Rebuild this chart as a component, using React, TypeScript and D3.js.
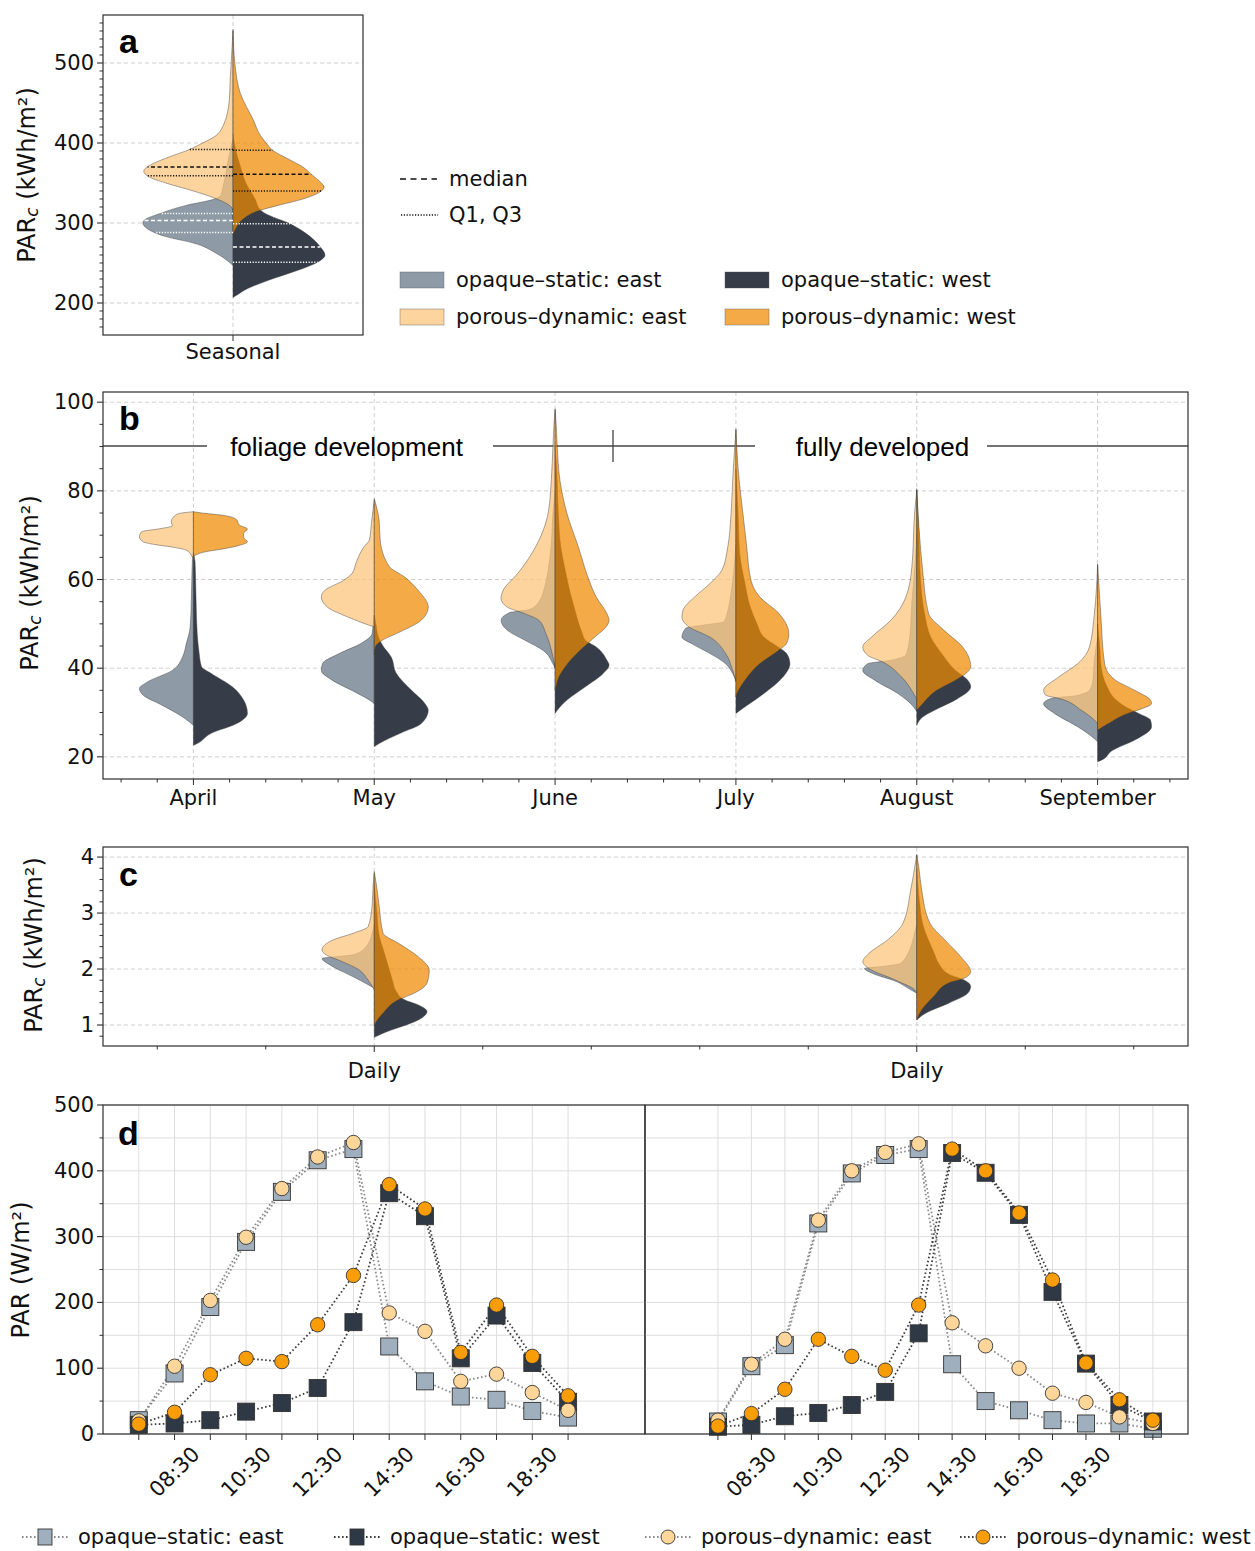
import React from 'react';
import * as d3 from 'd3';

type Pt = [number, number];

// ---------------- DATA ----------------
// violin half-profiles: [value, relative density (0-100)]
// Panel a (seasonal)
const aOpaqueEast: Pt[] = [[247,0],[250,3],[262,18],[275,43],[283,73],[292,92],[300,98],[304,96],[312,79],[322,51],[330,20],[335,13],[345,11],[360,8],[380,5],[400,1],[405,0]];
const aOpaqueWest: Pt[] = [[207,0],[209,3],[217,14],[229,40],[242,73],[251,92],[260,100],[270,95],[288,78],[299,62],[312,35],[316,30],[330,24],[350,14],[371,8],[391,3],[412,0]];
const aPorousEast: Pt[] = [[317,0],[323,5],[332,22],[340,43],[350,73],[358,92],[365,97],[371,92],[381,73],[392,47],[400,33],[408,20],[421,11],[454,4],[480,3],[500,2],[520,1],[540,0]];
const aPorousWest: Pt[] = [[285,0],[295,4],[305,11],[315,27],[322,49],[330,76],[340,96],[345,99],[350,96],[361,85],[370,76],[380,60],[391,43],[400,36],[409,30],[429,22],[462,8],[500,2],[542,0]];
// quartiles [Q1, median, Q3]
const aQuartOpaqueEast = [288, 303, 312];
const aQuartOpaqueWest = [251, 270, 299];
const aQuartPorousEast = [359, 370, 392];
const aQuartPorousWest = [340, 361, 391];

// Panel b (monthly)
const months = ['April', 'May', 'June', 'July', 'August', 'September'];
const aprOpaqueEast: Pt[] = [[27.1,0],[29,20],[31.7,59],[33.9,93],[35.4,100],[36.9,85],[39.5,39],[42.6,20],[45.6,13],[49.3,6],[55,4],[60,3],[64,2],[66,0]];
const aprOpaqueWest: Pt[] = [[22.6,0],[23,7],[25.3,33],[27.5,80],[29.8,100],[32.8,93],[35.8,72],[38.8,33],[40.3,15],[44,10],[47.8,7],[55,5],[60,4],[64,3],[66,0]];
const aprPorousEast: Pt[] = [[64.7,0],[65.5,4],[66.6,13],[67.2,33],[67.9,72],[68.5,93],[69.6,100],[70.75,96],[71.5,60],[72.1,39],[73.0,41],[74.1,37],[74.9,26],[75.3,0]];
const aprPorousWest: Pt[] = [[65.1,0],[66.2,20],[67.0,59],[67.7,85],[68.5,100],[69.5,93],[70.4,93],[71.4,100],[72.3,85],[73.5,80],[74.4,59],[75.1,10],[75.3,0]];
const mayOpaqueEast: Pt[] = [[32,0],[32.4,4],[34.7,37],[37.3,78],[39.5,98],[41,96],[43.3,65],[45.6,24],[47.8,4],[50,2],[52,0]];
const mayOpaqueWest: Pt[] = [[22.3,0],[23,9],[25.3,48],[27.5,87],[30.5,100],[32,94],[35,69],[38.8,41],[42.6,31],[45.2,15],[47,8],[50,3],[52,0]];
const mayPorousEast: Pt[] = [[49.3,0],[50.1,19],[51.6,50],[53.8,87],[56.1,98],[57.6,91],[59.8,57],[61.4,41],[64,33],[67.4,19],[68.9,9],[73,5],[77.9,0]];
const mayPorousWest: Pt[] = [[43,0],[44.8,2],[46.3,15],[48.2,48],[50.8,87],[53.8,100],[57.6,81],[60.6,56],[62.9,28],[68.9,11],[73.4,9],[76.5,4],[78.2,0]];
const junOpaqueEast: Pt[] = [[40,0],[41,4],[44,22],[46.3,56],[48.6,89],[50.8,100],[52.5,85],[53.3,46],[55,30],[58,20],[62,13],[68,7],[75,4],[80,0]];
const junOpaqueWest: Pt[] = [[29.8,0],[30.5,4],[32.8,22],[35.8,56],[38.8,89],[40.7,100],[41.8,96],[44.8,76],[46.3,56],[48,50],[50,44],[53,37],[57,28],[62,19],[67,11],[75,6],[85,3],[90,0]];
const junPorousEast: Pt[] = [[40.3,0],[42.6,4],[47.8,17],[50.8,30],[52.3,56],[53.8,89],[55.7,100],[57.6,96],[61.4,69],[65.9,43],[71.1,22],[74.9,13],[82.4,7],[89.9,4],[95,2],[98.2,0]];
const junPorousWest: Pt[] = [[35,0],[36,2],[38,7],[40,17],[42,30],[44,46],[45.6,61],[47.1,74],[48.6,89],[50.8,100],[52.3,96],[56.1,76],[59.8,63],[67.4,43],[74.9,22],[82.4,9],[89.9,4],[95,2],[98.5,0]];
const julOpaqueEast: Pt[] = [[37,0],[38.8,6],[41,19],[43.3,48],[45.6,83],[47,100],[49,93],[49.8,56],[50.5,22],[53,15],[57,9],[62,4],[68,0]];
const julOpaqueWest: Pt[] = [[29.8,0],[31.3,17],[34.3,52],[38,87],[41,100],[43.3,94],[44.8,78],[47,52],[50,39],[54,26],[59,17],[66,7],[75,4],[85,0]];
const julPorousEast: Pt[] = [[37.3,0],[39.5,6],[43.3,19],[47,48],[49.3,87],[51.6,100],[53.1,98],[56.1,76],[59.1,48],[62.1,26],[67.4,15],[74.9,9],[82.4,6],[93.7,0]];
const julPorousWest: Pt[] = [[33.5,0],[34.3,2],[37.3,17],[41,44],[44.1,80],[45.6,94],[47.8,98],[52.3,80],[56.1,44],[59.8,28],[67.4,20],[74.9,13],[82.4,6],[94,0]];
const augOpaqueEast: Pt[] = [[30.2,0],[31.3,6],[34.3,35],[37.3,78],[39.5,100],[41,91],[41.8,48],[43,20],[47,13],[55,9],[62,4],[70,0]];
const augOpaqueWest: Pt[] = [[27.1,0],[29,11],[31,41],[33,74],[35.8,100],[37.5,93],[39.5,72],[43,48],[47,26],[52,15],[60,7],[70,4],[80,0]];
const augPorousEast: Pt[] = [[33,0],[34.3,6],[38,28],[41.4,63],[42.9,91],[44.8,100],[47.1,83],[50.8,48],[56.1,20],[62.9,9],[74.9,4],[80.2,0]];
const augPorousWest: Pt[] = [[30.5,0],[32,11],[35,37],[37.3,72],[39,93],[40.3,100],[44.8,85],[48.6,50],[52.3,22],[62,11],[72,4],[80.5,0]];
const sepOpaqueEast: Pt[] = [[23.4,0],[24.1,6],[26.8,37],[29.8,80],[32,100],[33.2,85],[33.8,40],[35,15],[37,9],[42,6],[47,0]];
const sepOpaqueWest: Pt[] = [[18.9,0],[19.2,6],[21.5,28],[23.8,69],[26.8,100],[28.3,98],[29.8,76],[31,56],[33,33],[36,17],[40,7],[45,4],[50,0]];
const sepPorousEast: Pt[] = [[27.5,0],[28.3,6],[30.5,30],[33.2,72],[33.9,96],[35,100],[38,72],[41,37],[44.8,15],[52.3,6],[63.2,0]];
const sepPorousWest: Pt[] = [[26,0],[27.5,20],[29.8,56],[30.9,83],[32,100],[32.8,98],[35,69],[37.3,33],[41,13],[52,6],[63.5,0]];

// Panel c (daily)
const dailyLabels = ['Daily', 'Daily'];
const d1OpaqueEast: Pt[] = [[1.66,0],[1.72,11],[1.86,38],[2.07,80],[2.19,95],[2.22,70],[2.26,36],[2.4,15],[2.6,5],[2.8,0]];
const d1OpaqueWest: Pt[] = [[0.78,0],[0.85,15],[0.91,31],[1.0,58],[1.09,80],[1.24,96],[1.35,82],[1.45,55],[1.6,40],[1.8,33],[2.0,27],[2.3,18],[2.6,9],[3.0,5],[3.5,0]];
const d1PorousEast: Pt[] = [[1.63,0],[1.8,11],[2.0,30],[2.14,60],[2.25,87],[2.34,95],[2.52,75],[2.64,38],[2.76,11],[3.12,4],[3.5,2],[3.71,0]];
const d1PorousWest: Pt[] = [[0.98,0],[1.03,2],[1.21,16],[1.45,44],[1.57,73],[1.75,96],[1.98,100],[2.22,80],[2.46,44],[2.64,16],[3.12,9],[3.5,4],[3.74,0]];
const d2OpaqueEast: Pt[] = [[1.57,0],[1.63,11],[1.78,38],[1.92,80],[2.01,95],[2.05,60],[2.1,30],[2.3,15],[2.6,5],[2.8,0]];
const d2OpaqueWest: Pt[] = [[1.09,0],[1.21,16],[1.39,58],[1.57,93],[1.69,98],[1.81,85],[1.9,60],[2.1,40],[2.3,31],[2.5,22],[2.8,11],[3.2,5],[3.8,0]];
const d2PorousEast: Pt[] = [[1.57,0],[1.63,4],[1.8,38],[2.01,87],[2.13,98],[2.28,87],[2.52,53],[2.82,25],[3.41,11],[3.8,4],[4.04,0]];
const d2PorousWest: Pt[] = [[1.09,0],[1.27,9],[1.51,31],[1.75,58],[1.83,85],[1.95,98],[2.22,80],[2.52,51],[2.82,24],[3.41,9],[3.8,4],[4.04,0]];

// Panel d (diurnal PAR, W/m²)
const timesLeft = ['07:30','08:30','09:30','10:30','11:30','12:30','13:30','14:30','15:30','16:30','17:30','18:30','19:30'];
const timesRight = ['07:30','08:30','09:30','10:30','11:30','12:30','13:30','14:30','15:30','16:30','17:30','18:30','19:30','20:30'];
const labelledTimes = ['08:30','10:30','12:30','14:30','16:30','18:30'];
const leftOpaqueEast = [21,92,193,292,368,416,433,133,80,57,52,35,25];
const leftOpaqueWest = [14,16,21,34,47,70,170,366,331,115,180,108,49];
const leftPorousEast = [20,103,203,299,373,421,443,184,156,80,91,63,36];
const leftPorousWest = [15,33,90,115,110,166,241,379,342,124,196,118,58];
const rightOpaqueEast = [19,103,135,320,396,424,433,106,50,36,21,16,16,8];
const rightOpaqueWest = [11,14,27,32,44,64,153,427,397,333,216,107,44,19];
const rightPorousEast = [21,106,144,325,400,428,441,169,134,100,62,48,26,16];
const rightPorousWest = [12,31,68,144,118,97,196,433,400,336,234,108,52,21];

const seriesLabels = ['opaque–static: east', 'opaque–static: west', 'porous–dynamic: east', 'porous–dynamic: west'];
const aTicks = [200, 300, 400, 500];
const bTicks = [20, 40, 60, 80, 100];
const cTicks = [1, 2, 3, 4];
const dTicks = [0, 100, 200, 300, 400, 500];

// ---------------- STYLE ----------------
const FONT = "'DejaVu Sans', Verdana, sans-serif";
const ARIAL = "'Liberation Sans', Arial, Helvetica, sans-serif";
const VC = { oe: '#8e9ba6', ow: '#363d48', pe: '#fdc479', pw: '#f08a00' };
const PALPHA = 0.72;
const MC = { oe: '#a0afbd', ow: '#2f3845', pe: '#fed699', pw: '#f99d06' };
const AX = '#2e2e2e';

const toHours = (t: string) => { const [h, m] = t.split(':').map(Number); return h + m / 60; };

function widthAt(p: Pt[], v: number): number {
  const s = [...p].sort((a, b) => a[0] - b[0]);
  for (let i = 0; i < s.length - 1; i++) {
    if (v >= s[i][0] && v <= s[i + 1][0]) {
      const t = (v - s[i][0]) / (s[i + 1][0] - s[i][0]);
      return s[i][1] + t * (s[i + 1][1] - s[i][1]);
    }
  }
  return 0;
}

function Half({ data, cx, dir, y, w, fill, alpha }: any) {
  const sorted = [...data].sort((p: Pt, q: Pt) => q[0] - p[0]);
  const area = d3.area<Pt>().curve(d3.curveMonotoneY).y(d => y(d[0])).x0(cx).x1(d => cx + dir * w(d[1]));
  return <path d={area(sorted) || ''} fill={fill} fillOpacity={alpha} stroke="#3a3a3a" strokeOpacity={0.55} strokeWidth={0.8} />;
}

function Violin({ cx, y, w, oe, ow, pe, pw }: any) {
  return (
    <g>
      <Half data={oe} cx={cx} dir={-1} y={y} w={w} fill={VC.oe} alpha={1} />
      <Half data={ow} cx={cx} dir={1} y={y} w={w} fill={VC.ow} alpha={1} />
      <Half data={pe} cx={cx} dir={-1} y={y} w={w} fill={VC.pe} alpha={PALPHA} />
      <Half data={pw} cx={cx} dir={1} y={y} w={w} fill={VC.pw} alpha={PALPHA} />
    </g>
  );
}

function YAxis({ y, x0, ticks, minor, fmt, fs = 21 }: any) {
  return (
    <g>
      {minor.map((v: number, i: number) => <line key={'m' + i} x1={x0} x2={x0 - 3.5} y1={y(v)} y2={y(v)} stroke={AX} strokeWidth={1} />)}
      {ticks.map((v: number) => (
        <g key={v}>
          <line x1={x0} x2={x0 - 6} y1={y(v)} y2={y(v)} stroke={AX} strokeWidth={1.1} />
          <text x={x0 - 9} y={y(v)} textAnchor="end" dominantBaseline="central" fontFamily={FONT} fontSize={fs} fill="#111">{fmt ? fmt(v) : v}</text>
        </g>
      ))}
    </g>
  );
}

function YLabel({ x, y, main, sub, rest }: any) {
  return (
    <text transform={`translate(${x},${y}) rotate(-90)`} textAnchor="middle" dominantBaseline="central" fontFamily={FONT} fontSize={24} fill="#111">
      {main}
      {sub ? <tspan fontSize={17} fontStyle="italic" dy={5}>{sub}</tspan> : null}
      <tspan dy={sub ? -5 : 0}>{rest}</tspan>
    </text>
  );
}

function PanelLabel({ x, y, t }: any) {
  return <text x={x} y={y} fontFamily={ARIAL} fontWeight="bold" fontSize={34} fill="#000">{t}</text>;
}

const dash = '4 3';
const GRID = '#c9c9c9';

export default function App() {
  // ---------- panel a ----------
  const aL = 103, aR = 363, aT = 15, aB = 335;
  const yA = d3.scaleLinear().domain([160, 560]).range([aB, aT]);
  const wA = d3.scaleLinear().domain([0, 100]).range([0, 92]);
  const xA = d3.scaleBand<string>().domain(['Seasonal']).range([aL, aR]);
  const cxA = (xA('Seasonal') as number) + xA.bandwidth() / 2;
  const aMinor = d3.range(170, 560, 10).filter(v => v % 100 !== 0);

  const quartLines = (q: number[], prof: Pt[], dir: number, color: string) =>
    q.map((v, i) => (
      <line key={i} x1={cxA} x2={cxA + dir * wA(widthAt(prof, v))} y1={yA(v)} y2={yA(v)} stroke={color} strokeWidth={1.5}
        strokeDasharray={i === 1 ? '4 2.5' : '1.2 1.6'} />
    ));

  // ---------- panel b ----------
  const bL = 103, bR = 1188, bT = 392, bB = 779;
  const yB = d3.scaleLinear().domain([15, 102.3]).range([bB, bT]);
  const xB = d3.scaleBand<string>().domain(months).range([bL, bR]);
  const bw = xB.bandwidth();
  const cB = (m: string) => (xB(m) as number) + bw / 2;
  const wB = d3.scaleLinear().domain([0, 100]).range([0, 54]);
  const bMinor = d3.range(20, 101, 5).filter(v => v % 20 !== 0);
  const bViolins = [
    [aprOpaqueEast, aprOpaqueWest, aprPorousEast, aprPorousWest],
    [mayOpaqueEast, mayOpaqueWest, mayPorousEast, mayPorousWest],
    [junOpaqueEast, junOpaqueWest, junPorousEast, junPorousWest],
    [julOpaqueEast, julOpaqueWest, julPorousEast, julPorousWest],
    [augOpaqueEast, augOpaqueWest, augPorousEast, augPorousWest],
    [sepOpaqueEast, sepOpaqueWest, sepPorousEast, sepPorousWest],
  ];
  const minorX = (centers: number[], band: number, lo: number, hi: number) => {
    const out: number[] = [];
    centers.forEach(c => [-2, -1, 1, 2].forEach(k => { const v = c + k * band / 5; if (v > lo + 1 && v < hi - 1) out.push(v); }));
    return out;
  };
  const bCenters = months.map(cB);
  const phaseY = 446;

  // ---------- panel c ----------
  const cL = 103, cR = 1188, cT = 847, cBt = 1046;
  const yC = d3.scaleLinear().domain([0.625, 4.18]).range([cBt, cT]);
  const xC = d3.scaleBand<number>().domain([0, 1]).range([cL, cR]);
  const cbw = xC.bandwidth();
  const cCenters = [0, 1].map(i => (xC(i) as number) + cbw / 2);
  const wC = d3.scaleLinear().domain([0, 100]).range([0, 55]);
  const cMinor = d3.range(0.8, 4.01, 0.2).filter(v => Math.abs(v - Math.round(v)) > 0.01);
  const cViolins = [
    [d1OpaqueEast, d1OpaqueWest, d1PorousEast, d1PorousWest],
    [d2OpaqueEast, d2OpaqueWest, d2PorousEast, d2PorousWest],
  ];

  // ---------- panel d ----------
  const dT = 1105, dB = 1434, dL1 = 103, dR1 = 645, dL2 = 645, dR2 = 1188;
  const yD = d3.scaleLinear().domain([0, 500]).range([dB, dT]);
  const xD1 = d3.scaleLinear().domain([6.5, 21.65]).range([dL1, dR1]);
  const xD2 = d3.scaleLinear().domain([5.32, 21.55]).range([dL2, dR2]);
  const dGridY = d3.range(0, 501, 50);

  const sub = (times: string[], xs: any, series: { vals: number[]; kind: string; line: string; sq: boolean }[], key: string, L: number, R: number) => {
    const line = d3.line<number>().x((_, i) => xs(toHours(times[i]))).y(v => yD(v));
    return (
      <g key={key}>
        {dGridY.map(v => <line key={'gy' + v} x1={L} x2={R} y1={yD(v)} y2={yD(v)} stroke="#dedede" strokeWidth={1} />)}
        {times.map(t => <line key={'gx' + t} x1={xs(toHours(t))} x2={xs(toHours(t))} y1={dT} y2={dB} stroke="#dedede" strokeWidth={1} />)}
        {series.map(s => <path key={'l' + s.kind} d={line(s.vals) || ''} fill="none" stroke={s.line} strokeWidth={1.8} strokeDasharray="1.6 2.4" />)}
        {series.map(s => (
          <g key={'m' + s.kind}>
            {s.vals.map((v, i) => s.sq
              ? <rect key={i} x={xs(toHours(times[i])) - 8.5} y={yD(v) - 8.5} width={17} height={17} fill={(MC as any)[s.kind]} stroke="#333" strokeWidth={0.9} />
              : <circle key={i} cx={xs(toHours(times[i]))} cy={yD(v)} r={7.2} fill={(MC as any)[s.kind]} stroke="#333" strokeWidth={0.9} />)}
          </g>
        ))}
        <rect x={L} y={dT} width={R - L} height={dB - dT} fill="none" stroke={AX} strokeWidth={1.2} />
        {times.map(t => <line key={'t' + t} x1={xs(toHours(t))} x2={xs(toHours(t))} y1={dB} y2={dB + 6} stroke={AX} strokeWidth={1} />)}
        {times.filter(t => labelledTimes.includes(t)).map(t => (
          <text key={'tl' + t} transform={`translate(${xs(toHours(t))},${dB + 38}) rotate(-45)`} textAnchor="middle" dominantBaseline="central" fontFamily={FONT} fontSize={21} fill="#111">{t}</text>
        ))}
      </g>
    );
  };

  const legendX = [22, 334, 645, 960];
  const legendKinds = ['oe', 'ow', 'pe', 'pw'];
  const lineCol: any = { oe: '#8a8a8a', ow: '#3c3c3c', pe: '#8a8a8a', pw: '#3c3c3c' };

  return (
    <svg width={1255} height={1551} style={{ position: 'absolute', left: 0, top: 0, background: '#fff' }} xmlns="http://www.w3.org/2000/svg">
      <rect x={0} y={0} width={1255} height={1551} fill="#fff" />

      {/* ================= panel a ================= */}
      <g>
        {aTicks.map(v => <line key={v} x1={aL} x2={aR} y1={yA(v)} y2={yA(v)} stroke={GRID} strokeDasharray={dash} strokeWidth={0.9} />)}
        <line x1={cxA} x2={cxA} y1={aT} y2={aB} stroke={GRID} strokeDasharray={dash} strokeWidth={0.9} />
        <Violin cx={cxA} y={yA} w={wA} oe={aOpaqueEast} ow={aOpaqueWest} pe={aPorousEast} pw={aPorousWest} />
        {quartLines(aQuartOpaqueEast, aOpaqueEast, -1, '#ffffff')}
        {quartLines(aQuartOpaqueWest, aOpaqueWest, 1, '#ffffff')}
        {quartLines(aQuartPorousEast, aPorousEast, -1, '#111')}
        {quartLines(aQuartPorousWest, aPorousWest, 1, '#111')}
        <rect x={aL} y={aT} width={aR - aL} height={aB - aT} fill="none" stroke={AX} strokeWidth={1.2} />
        <YAxis y={yA} x0={aL} ticks={aTicks} minor={aMinor} />
        <line x1={cxA} x2={cxA} y1={aB} y2={aB + 6} stroke={AX} />
        <text x={cxA} y={352} textAnchor="middle" dominantBaseline="central" fontFamily={FONT} fontSize={21} fill="#111">Seasonal</text>
        <YLabel x={27} y={175} main="PAR" sub="c" rest=" (kWh/m²)" />
        <PanelLabel x={119} y={53} t="a" />
      </g>

      {/* legend a */}
      <g fontFamily={FONT} fontSize={21} fill="#111">
        <line x1={400} x2={437} y1={179} y2={179} stroke="#111" strokeWidth={1.5} strokeDasharray="6 4.5" />
        <text x={449} y={179} dominantBaseline="central">median</text>
        <line x1={401} x2={438} y1={215} y2={215} stroke="#111" strokeWidth={1.3} strokeDasharray="1.2 1.6" />
        <text x={449} y={215} dominantBaseline="central">Q1, Q3</text>
        {[0, 1, 2, 3].map(i => {
          const col = i % 2 === 0 ? 0 : 1;
          const row = i < 2 ? 0 : 1;
          const k = ['oe', 'ow', 'pe', 'pw'][i];
          const px = col === 0 ? 400 : 725;
          const py = row === 0 ? 280 : 317;
          const lab = [seriesLabels[0], seriesLabels[1], seriesLabels[2], seriesLabels[3]][i];
          return (
            <g key={i}>
              <rect x={px} y={py - 8} width={44} height={16} fill={(VC as any)[k]} fillOpacity={k[0] === 'p' ? PALPHA : 1} stroke="#555" strokeOpacity={0.5} strokeWidth={0.8} />
              <text x={px + 56} y={py} dominantBaseline="central">{lab}</text>
            </g>
          );
        })}
      </g>

      {/* ================= panel b ================= */}
      <g>
        {bTicks.map(v => <line key={v} x1={bL} x2={bR} y1={yB(v)} y2={yB(v)} stroke={GRID} strokeDasharray={dash} strokeWidth={0.9} />)}
        {bCenters.map((c, i) => <line key={i} x1={c} x2={c} y1={bT} y2={bB} stroke={GRID} strokeDasharray={dash} strokeWidth={0.9} />)}
        {/* phase annotation */}
        <g stroke="#444" strokeWidth={1.3}>
          <line x1={bL} x2={207} y1={phaseY} y2={phaseY} />
          <line x1={493} x2={755} y1={phaseY} y2={phaseY} />
          <line x1={613} x2={613} y1={phaseY - 16} y2={phaseY + 16} />
          <line x1={987} x2={bR} y1={phaseY} y2={phaseY} />
        </g>
        <text x={346.5} y={phaseY + 10} textAnchor="middle" fontFamily={ARIAL} fontSize={26} fill="#000">foliage development</text>
        <text x={882.5} y={phaseY + 10} textAnchor="middle" fontFamily={ARIAL} fontSize={26} fill="#000">fully developed</text>
        {bViolins.map((v, i) => (
          <Violin key={i} cx={bCenters[i]} y={yB} w={wB} oe={v[0]} ow={v[1]} pe={v[2]} pw={v[3]} />
        ))}
        <rect x={bL} y={bT} width={bR - bL} height={bB - bT} fill="none" stroke={AX} strokeWidth={1.2} />
        <YAxis y={yB} x0={bL} ticks={bTicks} minor={bMinor} />
        {minorX(bCenters, bw, bL, bR).map((x, i) => <line key={i} x1={x} x2={x} y1={bB} y2={bB + 3.5} stroke={AX} />)}
        {months.map((m, i) => (
          <g key={m}>
            <line x1={bCenters[i]} x2={bCenters[i]} y1={bB} y2={bB + 6} stroke={AX} />
            <text x={bCenters[i]} y={798} textAnchor="middle" dominantBaseline="central" fontFamily={FONT} fontSize={21} fill="#111">{m}</text>
          </g>
        ))}
        <YLabel x={30} y={583} main="PAR" sub="c" rest=" (kWh/m²)" />
        <PanelLabel x={119} y={430} t="b" />
      </g>

      {/* ================= panel c ================= */}
      <g>
        {cTicks.map(v => <line key={v} x1={cL} x2={cR} y1={yC(v)} y2={yC(v)} stroke={GRID} strokeDasharray={dash} strokeWidth={0.9} />)}
        {cCenters.map((c, i) => <line key={i} x1={c} x2={c} y1={cT} y2={cBt} stroke={GRID} strokeDasharray={dash} strokeWidth={0.9} />)}
        {cViolins.map((v, i) => (
          <Violin key={i} cx={cCenters[i]} y={yC} w={wC} oe={v[0]} ow={v[1]} pe={v[2]} pw={v[3]} />
        ))}
        <rect x={cL} y={cT} width={cR - cL} height={cBt - cT} fill="none" stroke={AX} strokeWidth={1.2} />
        <YAxis y={yC} x0={cL} ticks={cTicks} minor={cMinor} />
        {minorX(cCenters, cbw, cL, cR).map((x, i) => <line key={i} x1={x} x2={x} y1={cBt} y2={cBt + 3.5} stroke={AX} />)}
        {dailyLabels.map((lab, i) => (
          <g key={i}>
            <line x1={cCenters[i]} x2={cCenters[i]} y1={cBt} y2={cBt + 6} stroke={AX} />
            <text x={cCenters[i]} y={1071} textAnchor="middle" dominantBaseline="central" fontFamily={FONT} fontSize={21} fill="#111">{lab}</text>
          </g>
        ))}
        <YLabel x={34} y={945} main="PAR" sub="c" rest=" (kWh/m²)" />
        <PanelLabel x={119} y={886} t="c" />
      </g>

      {/* ================= panel d ================= */}
      <g>
        {sub(timesLeft, xD1, [
          { vals: leftOpaqueEast, kind: 'oe', line: lineCol.oe, sq: true },
          { vals: leftOpaqueWest, kind: 'ow', line: lineCol.ow, sq: true },
          { vals: leftPorousEast, kind: 'pe', line: lineCol.pe, sq: false },
          { vals: leftPorousWest, kind: 'pw', line: lineCol.pw, sq: false },
        ], 'L', dL1, dR1)}
        {sub(timesRight, xD2, [
          { vals: rightOpaqueEast, kind: 'oe', line: lineCol.oe, sq: true },
          { vals: rightOpaqueWest, kind: 'ow', line: lineCol.ow, sq: true },
          { vals: rightPorousEast, kind: 'pe', line: lineCol.pe, sq: false },
          { vals: rightPorousWest, kind: 'pw', line: lineCol.pw, sq: false },
        ], 'R', dL2, dR2)}
        <YAxis y={yD} x0={dL1} ticks={dTicks} minor={[50, 150, 250, 350, 450]} />
        <YLabel x={21} y={1270} main="PAR (W/m²)" rest="" />
        <PanelLabel x={118} y={1145} t="d" />
      </g>

      {/* bottom legend */}
      <g fontFamily={FONT} fontSize={21} fill="#111">
        {legendKinds.map((k, i) => {
          const x0 = legendX[i];
          const cy = 1537;
          return (
            <g key={k}>
              <line x1={x0} x2={x0 + 46} y1={cy} y2={cy} stroke={lineCol[k]} strokeWidth={1.8} strokeDasharray="1.6 2.4" />
              {k[0] === 'o'
                ? <rect x={x0 + 16} y={cy - 8} width={14} height={16} fill={(MC as any)[k]} stroke="#333" strokeWidth={0.9} />
                : <circle cx={x0 + 23} cy={cy} r={7} fill={(MC as any)[k]} stroke="#333" strokeWidth={0.9} />}
              <text x={x0 + 56} y={cy} dominantBaseline="central">{seriesLabels[i]}</text>
            </g>
          );
        })}
      </g>
    </svg>
  );
}
